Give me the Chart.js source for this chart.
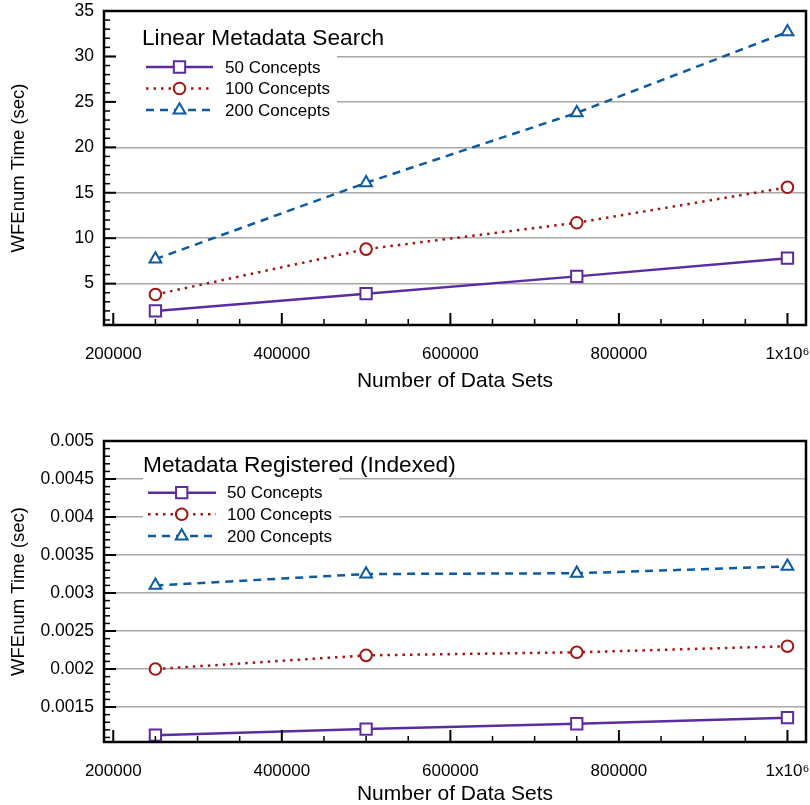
<!DOCTYPE html>
<html><head><meta charset="utf-8">
<script src="https://cdn.jsdelivr.net/npm/chart.js@4.4.1/dist/chart.umd.min.js"></script>
<style>
html,body{margin:0;padding:0;background:#fff;}
#wrap{position:relative;width:810px;height:805px;overflow:hidden;}
.box{position:absolute;left:0;width:810px;}
canvas{display:block;}
</style></head><body>
<div id="wrap">
<div class="box" style="top:0;height:400px"><canvas id="c1" width="810" height="400"></canvas></div>
<div class="box" style="top:400px;height:405px"><canvas id="c2" width="810" height="405"></canvas></div>
</div>
<script>
// ---------- data ----------
const dataSetCounts = [250000, 500000, 750000, 1000000];
const seriesNames = ['50 Concepts', '100 Concepts', '200 Concepts'];
const linear50  = [2.0, 3.9, 5.8, 7.8];
const linear100 = [3.8, 8.8, 11.7, 15.6];
const linear200 = [7.7, 16.1, 23.8, 32.7];
const indexed50  = [0.00113, 0.00121, 0.00128, 0.00136];
const indexed100 = [0.00200, 0.00218, 0.00222, 0.00230];
const indexed200 = [0.00310, 0.00325, 0.00326, 0.00335];
const xTickValues = [200000, 400000, 600000, 800000, 1000000];
const xTickLabels = ['200000', '400000', '600000', '800000', '1x10\u2076'];
const linearTickValues = [5, 10, 15, 20, 25, 30, 35];
const linearTickLabels = ['5', '10', '15', '20', '25', '30', '35'];
const indexedTickValues = [0.0015, 0.002, 0.0025, 0.003, 0.0035, 0.004, 0.0045, 0.005];
const indexedTickLabels = ['0.0015', '0.002', '0.0025', '0.003', '0.0035', '0.004', '0.0045', '0.005'];

// ---------- styles ----------
const FONT = '"Liberation Sans", Arial, Helvetica, sans-serif';
const seriesStyles = [
  {color: '#5b2ca0', dash: [], point: 'rect', radius: 8},
  {color: '#a11610', dash: [2.5, 5], point: 'circle', radius: 5.8},
  {color: '#0d5a9e', dash: [8, 6], point: 'triangle', radius: 6.8}
];

function drawMarker(ctx, style, cx, cy) {
  ctx.save();
  ctx.setLineDash([]);
  ctx.lineWidth = 2;
  ctx.strokeStyle = style.color;
  ctx.fillStyle = '#fff';
  ctx.beginPath();
  const r = style.radius;
  if (style.point === 'rect') {
    const s = r * Math.SQRT1_2;
    ctx.rect(cx - s, cy - s, 2 * s, 2 * s);
  } else if (style.point === 'circle') {
    ctx.arc(cx, cy, r, 0, Math.PI * 2);
  } else {
    for (let k = 0; k < 3; k++) {
      const ang = k * 2 * Math.PI / 3;
      const px = cx + Math.sin(ang) * r, py = cy - Math.cos(ang) * r;
      if (k === 0) ctx.moveTo(px, py); else ctx.lineTo(px, py);
    }
    ctx.closePath();
  }
  ctx.fill();
  ctx.stroke();
  ctx.restore();
}

// keep the plot frame's right edge where the reference has it
const fixRight = {
  id: 'fixRight',
  afterLayout(chart, args, o) {
    const a = chart.chartArea;
    const target = chart.width - o.right;
    if (Math.abs(a.right - target) < 0.5) return;
    a.right = target;
    a.width = a.right - a.left;
    const x = chart.scales.x;
    x.right = target;
    x.width = x.right - x.left;
    x.configure();
    const y = chart.scales.y;
    y.configure();
  }
};

const decor = {
  id: 'decor',
  afterDatasetsDraw(chart, args, o) {
    const {ctx, chartArea: a, scales: {x, y}} = chart;
    ctx.save();
    // legend background
    const b = o.legend.box;
    ctx.fillStyle = '#fff';
    ctx.fillRect(b[0], b[1], b[2] - b[0], b[3] - b[1]);
    // ticks
    ctx.strokeStyle = '#000';
    ctx.setLineDash([]);
    const yMaj = o.yMajor, xMaj = xTickValues;
    const k0 = Math.ceil(y.min / o.yMinor - 1e-6), k1 = Math.floor(y.max / o.yMinor + 1e-6);
    for (let k = k0; k <= k1; k++) {
      const v = k * o.yMinor;
      const major = yMaj.some(m => Math.abs(m - v) < o.yMinor * 0.01);
      const py = y.getPixelForValue(v);
      ctx.lineWidth = major ? 2 : 1.5;
      ctx.beginPath();
      ctx.moveTo(a.left, py);
      ctx.lineTo(a.left + (major ? 12 : 6), py);
      ctx.stroke();
    }
    const j0 = Math.ceil(x.min / o.xMinor), j1 = Math.floor(x.max / o.xMinor);
    for (let j = j0; j <= j1; j++) {
      const v = j * o.xMinor;
      const major = xMaj.includes(v);
      const px = x.getPixelForValue(v);
      ctx.lineWidth = major ? 2 : 1.5;
      ctx.beginPath();
      ctx.moveTo(px, a.bottom);
      ctx.lineTo(px, a.bottom - (major ? 12 : 6));
      ctx.stroke();
    }
    // frame
    ctx.lineWidth = 2.5;
    ctx.strokeRect(a.left, a.top, a.right - a.left, a.bottom - a.top);
    // legend content
    const L = o.legend;
    ctx.fillStyle = '#000';
    ctx.font = '22.7px ' + FONT;
    ctx.textAlign = 'left';
    ctx.textBaseline = 'alphabetic';
    ctx.fillText(L.title, L.titleX, L.titleY);
    ctx.font = '17px ' + FONT;
    ctx.textBaseline = 'middle';
    chart.data.datasets.forEach((ds, i) => {
      const st = seriesStyles[i];
      const ry = L.rows[i];
      ctx.save();
      ctx.strokeStyle = st.color;
      ctx.lineWidth = 2.5;
      ctx.setLineDash(st.dash);
      ctx.beginPath();
      ctx.moveTo(L.lineX[0], ry);
      ctx.lineTo(L.lineX[1], ry);
      ctx.stroke();
      ctx.restore();
      drawMarker(ctx, st, L.markerX, ry);
      ctx.fillStyle = '#000';
      ctx.fillText(ds.label, L.textX, ry + 1);
    });
    ctx.restore();
  }
};

function makeChart(id, series, yTicks, yLabels, yMin, yMax, yMinor, cfg) {
  const datasets = series.map((vals, i) => {
    const st = seriesStyles[i];
    return {
      label: seriesNames[i],
      data: dataSetCounts.map((xv, j) => ({x: xv, y: vals[j]})),
      borderColor: st.color,
      borderWidth: 2.5,
      borderDash: st.dash,
      borderCapStyle: 'butt',
      pointStyle: st.point,
      pointRadius: st.radius,
      pointHoverRadius: st.radius,
      pointBorderWidth: 2,
      pointBorderColor: st.color,
      pointBackgroundColor: '#fff',
      tension: 0,
      fill: false
    };
  });
  return new Chart(document.getElementById(id), {
    type: 'line',
    data: {datasets},
    options: {
      responsive: false,
      animation: false,
      devicePixelRatio: 1,
      layout: {padding: {top: cfg.top, right: 4, left: 0, bottom: 0}},
      plugins: {
        legend: {display: false},
        tooltip: {enabled: false},
        fixRight: {right: 4},
        decor: {yMajor: yTicks, yMinor: yMinor, xMinor: 50000, legend: cfg.legend}
      },
      scales: {
        x: {
          type: 'linear', min: 189000, max: 1022000,
          afterBuildTicks: s => { s.ticks = xTickValues.map(v => ({value: v})); },
          afterFit: s => { s.height = cfg.xh; },
          grid: {drawOnChartArea: false, drawTicks: false},
          border: {display: false},
          ticks: {padding: 19, color: '#000', font: {family: FONT, size: 17}, maxRotation: 0, autoSkip: false,
                  callback: (v, i) => xTickLabels[i]},
          title: {display: true, text: 'Number of Data Sets', color: '#000', font: {family: FONT, size: 21, lineHeight: 1},
                  padding: {top: 0, bottom: cfg.titleB}}
        },
        y: {
          type: 'linear', min: yMin, max: yMax,
          afterBuildTicks: s => { s.ticks = yTicks.map(v => ({value: v})); },
          afterFit: s => { s.width = 104; s.paddingTop = 0; s.paddingBottom = 0; },
          grid: {color: '#a8a8a8', lineWidth: 1.5, drawTicks: false},
          border: {display: false},
          ticks: {padding: 10, color: '#000', font: {family: FONT, size: 17.5}, autoSkip: false,
                  callback: (v, i) => yLabels[i]},
          title: {display: true, text: 'WFEnum Time (sec)', color: '#000', font: {family: FONT, size: 18.5},
                  padding: {top: 8, bottom: 0}}
        }
      }
    },
    plugins: [fixRight, decor]
  });
}

makeChart('c1', [linear50, linear100, linear200], linearTickValues, linearTickLabels, 0.45, 35, 1, {
  top: 11, xh: 75, titleB: 8,
  legend: {title: 'Linear Metadata Search', box: [115, 18, 337, 125], titleX: 142, titleY: 45,
           rows: [67, 88.5, 110], lineX: [146, 213], markerX: 179.5, textX: 225}
});
makeChart('c2', [indexed50, indexed100, indexed200], indexedTickValues, indexedTickLabels, 0.00104, 0.005, 0.0001, {
  top: 41, xh: 63, titleB: 0,
  legend: {title: 'Metadata Registered (Indexed)', box: [143, 45, 339, 145], titleX: 143, titleY: 72,
           rows: [92.7, 114.3, 136], lineX: [148, 216], markerX: 181.7, textX: 227}
});
</script>
</body></html>
